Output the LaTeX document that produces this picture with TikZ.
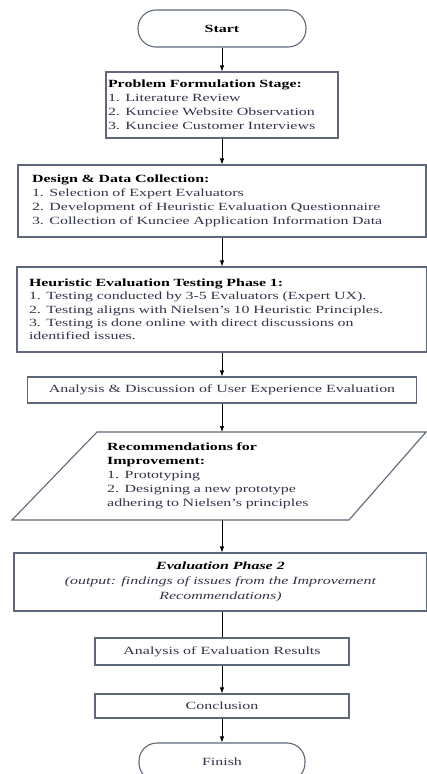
\documentclass[tikz,border=0pt]{standalone}
\usepackage{fontspec}
\setmainfont{Liberation Serif}[FakeStretch=1.45]
\usetikzlibrary{arrows.meta}
\definecolor{edgec}{RGB}{95,104,120}
\definecolor{txtc}{RGB}{50,52,72}
\newcommand\fsz{\fontsize{11}{14}\selectfont}
\newcommand\ttl[1]{{\color{black}\bfseries #1}}
\begin{document}
\begin{tikzpicture}[x=1pt,y=-1pt,
  box/.style={draw=edgec,line width=1.1pt,rectangle,inner ysep=0pt,font=\fsz,text=txtc},
  term/.style={box,rounded corners=18pt,align=center},
  arr/.style={-{Latex[length=6pt,width=4.5pt]},line width=0.8pt,black},
  plain/.style={line width=0.8pt,black}]
\useasboundingbox (0,0) rectangle (427,774);
\node[term,minimum width=168pt,minimum height=37pt,text=black,font=\fsz\bfseries] (start) at (222,28.5) {Start};
\node[box,minimum height=66pt,inner xsep=2pt,text width=228pt,align=left] (prob) at (222,105)
  {\ttl{Problem Formulation Stage:}\\1. Literature Review\\2. Kunciee Website Observation\\3. Kunciee Customer Interviews};
\node[box,minimum height=72pt,inner xsep=14pt,text width=380pt,align=left] (design) at (222,201)
  {\ttl{Design \& Data Collection:}\\1. Selection of Expert Evaluators\\2. Development of Heuristic Evaluation Questionnaire\\3. Collection of Kunciee Application Information Data};
\node[box,minimum height=85pt,inner xsep=12pt,text width=386pt,align=left,font=\fontsize{11}{13.3}\selectfont] (heur) at (222,309.5)
  {\ttl{Heuristic Evaluation Testing Phase 1:}\\1. Testing conducted by 3-5 Evaluators (Expert UX).\\2. Testing aligns with Nielsen's 10 Heuristic Principles.\\3. Testing is done online with direct discussions on\\identified issues.};
\node[box,minimum height=26pt,minimum width=389pt,align=center] (ana) at (222,390)
  {Analysis \& Discussion of User Experience Evaluation};
\draw[draw=edgec,line width=1.1pt] (97,432) coordinate (p1) -- (426,432) coordinate (p2)
  -- (349,520) coordinate (p3) -- (12,520) coordinate (p4) -- cycle;
\coordinate (ptop) at (222,432);
\coordinate (pbot) at (222,520);
\node[font=\fsz,text=txtc,align=left,inner sep=0pt,anchor=west,text width=240pt] (rec) at (107,476)
  {\ttl{Recommendations for}\\\ttl{Improvement:}\\1. Prototyping\\2. Designing a new prototype\\adhering to Nielsen's principles};
\node[box,minimum height=58pt,minimum width=413pt,align=center,font=\fontsize{11}{15}\selectfont] (eval) at (220.5,582)
  {{\color{black}\bfseries\itshape Evaluation Phase 2}\\\textit{(output: findings of issues from the Improvement}\\\textit{Recommendations)}};
\node[box,minimum height=27pt,minimum width=254pt,align=center] (ana2) at (222,651.5)
  {Analysis of Evaluation Results};
\node[box,minimum height=24pt,minimum width=254pt,align=center] (concl) at (222,706)
  {Conclusion};
\node[term,minimum width=166pt,minimum height=38pt] (finish) at (222,762) {Finish};
\draw[arr] (start.south) -- (prob.north);
\draw[arr] (prob.south) -- (design.north);
\draw[arr] (design.south) -- (heur.north);
\draw[arr] (heur.south) -- (ana.north);
\draw[arr] (ana.south) -- (ptop);
\draw[arr] (pbot) -- (eval.north -| pbot);
\draw[plain] (eval.south -| ana2.north) -- (ana2.north);
\draw[arr] (ana2.south) -- (concl.north);
\draw[arr] (concl.south) -- (finish.north);
\end{tikzpicture}
\end{document}
